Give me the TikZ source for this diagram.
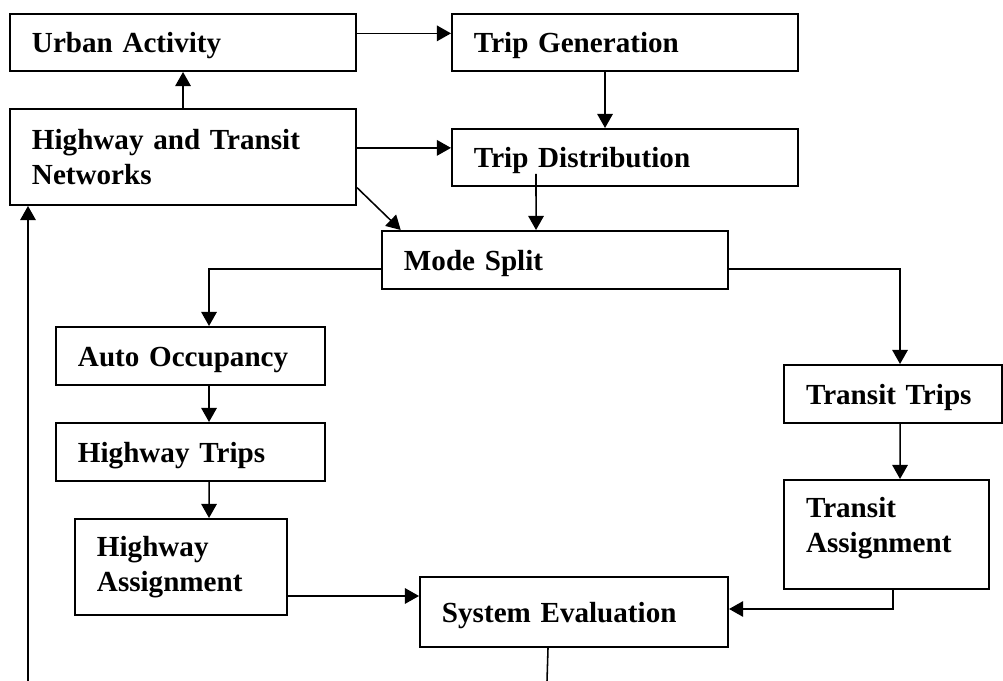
\documentclass[tikz,border=0pt]{standalone}
\usepackage{fontspec}
\setmainfont{Liberation Serif}
\usetikzlibrary{arrows.meta}

\tikzset{
  blk/.style={rectangle, draw, line width=1.4pt, anchor=north west, inner xsep=0.55cm, inner ysep=0pt,
    align=left, font=\fontsize{20.7}{24.9}\selectfont\bfseries},
  oneline/.style={text height=18.6pt, text depth=3.7pt},
  arr/.style={line width=1.1pt, -{Triangle[length=10pt,width=11pt]}},
}

\begin{document}
\begin{tikzpicture}[x=0.025cm, y=-0.025cm]
    \useasboundingbox (0,0) rectangle (1003,681);

    \node[blk, oneline, text width=7.55cm, minimum height=1.425cm] (ua)  at (9, 13)   {Urban Activity};
    \node[blk, oneline, text width=7.55cm, minimum height=1.425cm] (tg)  at (451, 13) {Trip Generation};
    \node[blk, text width=7.55cm, minimum height=2.4cm]            (htn) at (9, 108)  {Highway and Transit\\Networks};
    \node[blk, oneline, text width=7.55cm, minimum height=1.425cm] (td)  at (451, 128) {Trip Distribution};
    \node[blk, oneline, text width=7.55cm, minimum height=1.45cm]  (ms)  at (381, 230) {Mode Split};
    \node[blk, oneline, text width=5.625cm, minimum height=1.45cm] (ao)  at (55, 326)  {Auto Occupancy};
    \node[blk, oneline, text width=5.625cm, minimum height=1.45cm] (ht)  at (55, 422)  {Highway Trips};
    \node[blk, text width=4.2cm, minimum height=2.4cm]             (ha)  at (74, 518)  {Highway\\Assignment};
    \node[blk, oneline, text width=4.35cm, minimum height=1.45cm]  (tt)  at (783, 364) {Transit Trips};
    \node[blk, text width=4.025cm, minimum height=2.725cm, text height=14.1pt, text depth=37.7pt] (ta) at (783, 479) {Transit\\Assignment};
    \node[blk, oneline, text width=6.6cm, minimum height=1.75cm]   (se)  at (419, 576) {System Evaluation};
    \coordinate (seout) at (547, 681);
    \coordinate (fbin)  at (28, 681);

    \draw[arr] (ua.3) -- (ua.3 -| tg.west);
    \draw[arr] (htn.north) -- (ua.south);
    \draw[arr] ([xshift=-0.5cm]tg.south) -- ([xshift=-0.5cm]td.north);
    \draw[arr] (htn.3) -- (htn.3 -| td.west);
    \draw[arr] (htn.-10) -- (ms.169);
    \draw[arr] ([xshift=-2.225cm, yshift=0.325cm]td.south) -- ([xshift=-0.475cm]ms.north);
    \draw[arr] ([yshift=-0.225cm]ms.west) -| ([xshift=0.4625cm]ao.north);
    \draw[arr] ([yshift=-0.225cm]ms.east) -| ([xshift=0.175cm]tt.north);
    \draw[arr] ([xshift=0.4625cm]ao.south) -- ([xshift=0.4625cm]ht.north);
    \draw[arr] ([xshift=0.4625cm]ht.south) -- ([xshift=0.7cm]ha.north);
    \draw[arr] ([xshift=0.175cm]tt.south) -- ([xshift=0.3375cm]ta.north);
    \draw[arr] ([yshift=-0.725cm]ha.east) -- ([yshift=0.4cm]se.west);
    \draw[arr] ([xshift=0.1625cm]ta.south) |- ([yshift=0.075cm]se.east);
    \draw[line width=1.1pt] ([xshift=-0.65cm]se.south) -- (seout);
    \draw[arr] (fbin) -- (fbin |- htn.south);
\end{tikzpicture}
\end{document}
